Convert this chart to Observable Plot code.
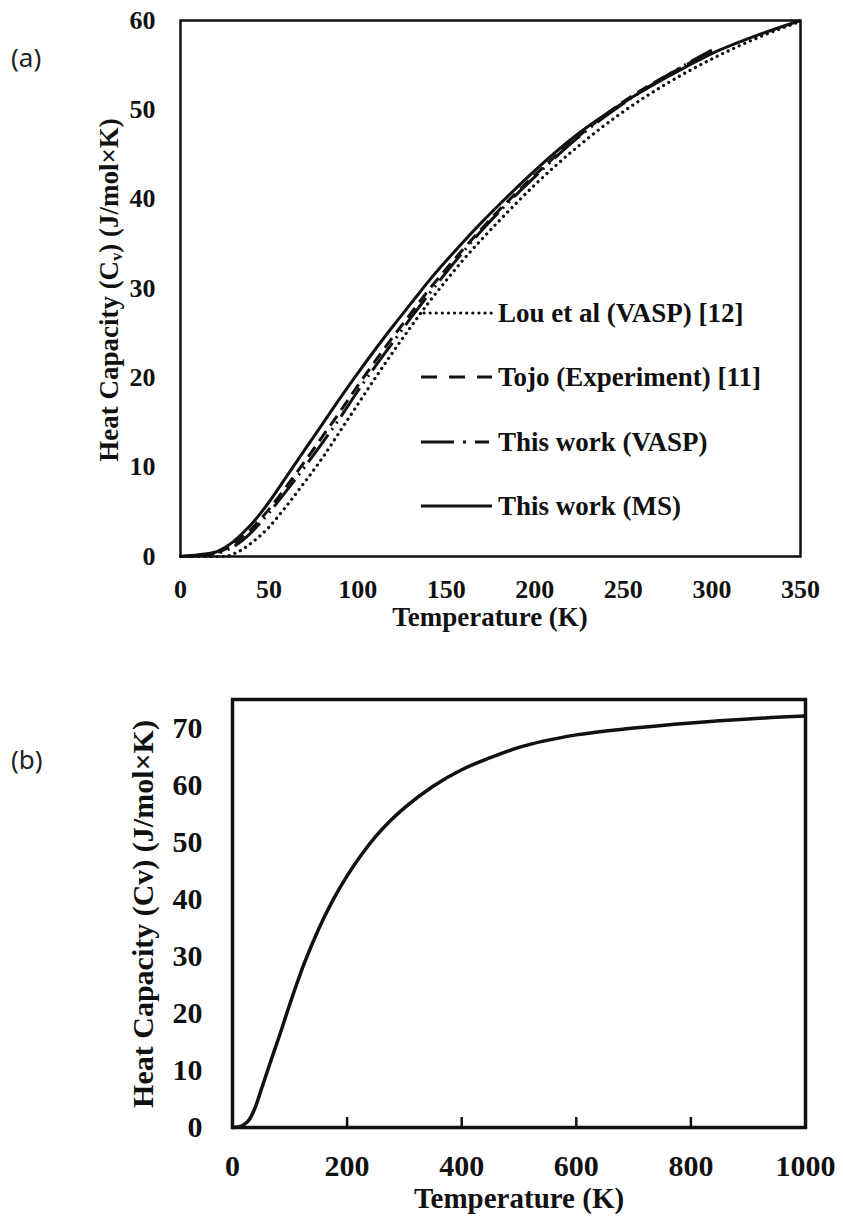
<!DOCTYPE html>
<html><head><meta charset="utf-8">
<script src="https://cdn.jsdelivr.net/npm/d3@7"></script>
<script src="https://cdn.jsdelivr.net/npm/@observablehq/plot@0.6"></script>
<style>
body{margin:0;background:#fff;}
#wrap{position:relative;width:843px;height:1219px;overflow:hidden;font-family:"Liberation Serif",serif;background:#fff;}
.abs{position:absolute;}
.panel{font-family:"Noto Sans",sans-serif;font-size:26px;color:#222;line-height:1;}
.lab{font-weight:bold;color:#111;white-space:nowrap;line-height:1;font-family:"Liberation Serif",serif;}
.ylab{transform:translate(-50%,-50%) rotate(-90deg);}
.xlab{transform:translate(-50%,-50%);}
sub{font-size:60%;vertical-align:-0.25em;}
</style></head><body><div id="wrap">
<div id="chartA" class="abs" style="left:0;top:0;"></div>
<div id="chartB" class="abs" style="left:0;top:650px;"></div>
<div class="abs panel" style="left:11px;top:44px;">(a)</div>
<div class="abs panel" style="left:11px;top:746px;">(b)</div>
<div class="abs lab ylab" style="left:111px;top:290px;font-size:27px;">Heat Capacity (C<sub>v</sub>) (J/mol×K)</div>
<div class="abs lab xlab" style="left:490px;top:617px;font-size:27px;">Temperature (K)</div>
<div class="abs lab ylab" style="left:143px;top:914px;font-size:30px;">Heat Capacity (Cv) (J/mol×K)</div>
<div class="abs lab xlab" style="left:519px;top:1198px;font-size:29px;">Temperature (K)</div>
<svg id="legend" class="abs" style="left:0;top:0;" width="843" height="650"></svg>
</div>
<script>
// ---- Panel (a) data ----
const tempA = [0,10,20,25,30,35,40,50,60,70,80,90,100,110,120,130,140,150,160,170,180,200,225,250,275,300,325,350];
const cvMS   = [0,0.2,0.5,1.0,1.7,2.6,3.6,6.1,9.0,11.9,14.8,17.7,20.5,23.2,25.8,28.3,30.8,33.1,35.3,37.4,39.4,43.2,47.4,50.8,53.7,56.3,58.3,60.0];
const cvLou  = [0,0,0,0,0.3,0.8,1.5,3.3,5.7,8.3,11.0,14.0,17.0,20.0,22.9,25.7,28.4,30.9,33.3,35.5,37.6,41.6,46.0,49.8,53.0,55.7,58.0,59.9];
const cvTojo = [0,0.1,0.4,0.8,1.4,2.2,3.1,5.3,7.9,10.6,13.4,16.2,19.1,21.9,24.6,27.2,29.8,32.2,34.5,36.7,38.8,42.7,47.1,50.9,53.9,56.5];
const cvVASP = [0,0.1,0.3,0.6,1.1,1.8,2.7,4.9,7.4,10.0,12.7,15.5,18.5,21.3,24.0,26.7,29.3,31.8,34.2,36.5,38.6,42.5,47.0,50.7,53.9,56.7];
const seriesNamesA = ["Lou et al (VASP) [12]","Tojo (Experiment) [11]","This work (VASP)","This work (MS)"];
const xTicksA = [0,50,100,150,200,250,300,350];
const yTicksA = [0,10,20,30,40,50,60];

// ---- Panel (b) data ----
const tempB = [0,10,20,30,40,50,60,70,80,100,125,150,175,200,225,250,275,300,350,400,450,500,600,700,800,900,1000];
const cvB   = [0,0.1,0.5,1.5,3.6,6.6,9.6,12.6,15.5,21.6,28.7,34.7,39.8,44.1,47.8,51.0,53.7,56.0,59.8,62.7,64.8,66.6,68.8,70.0,70.9,71.6,72.1];
const xTicksB = [0,200,400,600,800,1000];
const innerTicksB = [200,400,600,800];
const yTicksB = [0,10,20,30,40,50,60,70];

const ink = "#111";
const dashes = ["0.1,6", "12,7", "34,6,2,6,2,6", null];
const rows = (vals, name) => vals.map((v,i)=>({t: tempA[i], cv: v, name}));
const allSeries = [cvLou, cvTojo, cvVASP, cvMS];
const fmt = d3.format("d");

const chartA = Plot.plot({
  width: 843, height: 650,
  marginLeft: 180, marginRight: 43, marginTop: 20, marginBottom: 94,
  style: {fontFamily: "'Liberation Serif', serif", fontSize: "26px", fontWeight: "bold", color: ink, background: "transparent", overflow: "visible"},
  x: {domain: [0,350], ticks: xTicksA, tickFormat: fmt, tickSize: 0, tickPadding: 23, label: null},
  y: {domain: [0,60], ticks: yTicksA, tickFormat: fmt, tickSize: 0, tickPadding: 25, label: null},
  marks: [
    ...allSeries.map((vals, k) => Plot.line(rows(vals, seriesNamesA[k]), {
      x: "t", y: "cv", curve: "monotone-x", stroke: ink,
      strokeWidth: k === 0 ? 3.2 : 3, strokeLinecap: k === 0 ? "round" : "butt",
      strokeDasharray: dashes[k]
    })),
    Plot.frame({stroke: ink, strokeWidth: 2.5})
  ]
});
document.getElementById("chartA").appendChild(chartA);

const chartB = Plot.plot({
  width: 843, height: 569,
  marginLeft: 232, marginRight: 38, marginTop: 49, marginBottom: 92,
  style: {fontFamily: "'Liberation Serif', serif", fontSize: "30px", fontWeight: "bold", color: ink, background: "transparent", overflow: "visible"},
  x: {domain: [0,1000], ticks: xTicksB, tickFormat: fmt, tickSize: 0, tickPadding: 27, label: null},
  y: {domain: [0,75], ticks: yTicksB, tickFormat: fmt, tickSize: 0, tickPadding: 30, label: null},
  marks: [
    Plot.tickX(innerTicksB, {x: d => d, stroke: ink, strokeWidth: 2.5, insetTop: 418}),
    Plot.line(tempB.map((t,i)=>({t, cv: cvB[i]})), {x: "t", y: "cv", curve: "monotone-x", stroke: ink, strokeWidth: 3.5}),
    Plot.frame({stroke: ink, strokeWidth: 3.5})
  ]
});
document.getElementById("chartB").appendChild(chartB);

// Legend for panel (a)
const lg = d3.select("#legend");
const legY = [313, 377, 442, 506];
seriesNamesA.forEach((name, k) => {
  lg.append("line").attr("x1", k === 0 ? 424 : 421).attr("x2", 492).attr("y1", legY[k]).attr("y2", legY[k])
    .attr("stroke", ink).attr("stroke-width", k === 0 ? 3.2 : 3)
    .attr("stroke-linecap", k === 0 ? "round" : "butt")
    .attr("stroke-dasharray", k === 2 ? "33,9,3,9,14" : (k === 1 ? "16,12" : dashes[k]));
  lg.append("text").attr("x", 498).attr("y", legY[k]).attr("dy", "0.35em")
    .attr("font-family", "'Liberation Serif', serif").attr("font-weight", "bold").attr("font-size", 27)
    .attr("fill", ink).text(name);
});
</script>
</body></html>
